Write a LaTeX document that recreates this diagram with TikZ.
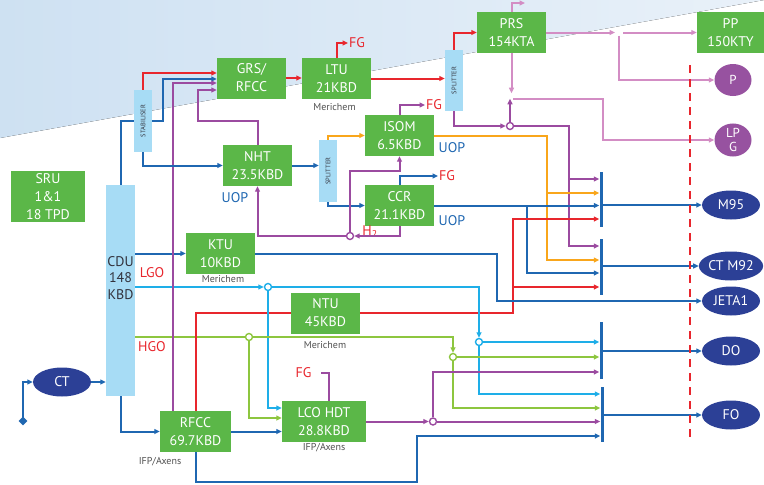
\documentclass[tikz,border=0pt]{standalone}
\usepackage{fontspec}
\setmainfont{PT Sans}
\usetikzlibrary{arrows.meta,shapes.geometric}
\definecolor{unitgreen}{RGB}{91,183,72}
\definecolor{colblue}{RGB}{167,220,245}
\definecolor{prodblue}{RGB}{44,64,150}
\definecolor{prodpurple}{RGB}{151,82,160}
\definecolor{lineblue}{RGB}{31,103,177}
\definecolor{linecyan}{RGB}{30,174,232}
\definecolor{linered}{RGB}{232,38,45}
\definecolor{linegreen}{RGB}{141,198,63}
\definecolor{linepurple}{RGB}{155,75,160}
\definecolor{linepink}{RGB}{211,141,196}
\definecolor{lineorange}{RGB}{249,166,27}
\definecolor{licgray}{RGB}{80,80,80}
\definecolor{coltext}{RGB}{50,50,60}
\definecolor{bgdark}{RGB}{206,225,242}
\definecolor{bglight}{RGB}{233,241,249}
\tikzset{
  unit/.style={rectangle, fill=unitgreen, text=white, align=center, inner sep=0pt, minimum width=69pt, minimum height=41pt, font=\fontsize{14}{18}\selectfont},
  column/.style={rectangle, fill=colblue, inner sep=0pt, minimum width=18pt},
  coltxt/.style={text=coltext, inner sep=0pt, font=\fontsize{6.5}{7}\selectfont},
  prod/.style={ellipse, fill=prodblue, text=white, inner sep=0pt, minimum width=58pt, minimum height=29pt, font=\fontsize{14}{16}\selectfont},
  lpgprod/.style={ellipse, fill=prodpurple, text=white, inner sep=0pt, minimum width=37pt, minimum height=32pt, align=center, font=\fontsize{13}{14}\selectfont},
  jnc/.style={circle, fill=white, line width=1.4pt, minimum size=7pt, inner sep=0pt},
  bar/.style={rectangle, fill=lineblue, minimum width=3pt, inner sep=0pt},
  fgtext/.style={text=linered, inner sep=1pt, font=\fontsize{14}{16}\selectfont},
  uoptext/.style={text=lineblue, inner sep=0pt, font=\fontsize{14}{16}\selectfont},
  lictxt/.style={text=licgray, inner sep=0pt, font=\fontsize{10}{12}\selectfont},
  fblue/.style={line width=2pt, draw=lineblue},
  fcyan/.style={line width=2pt, draw=linecyan},
  fred/.style={line width=2pt, draw=linered},
  fgreen/.style={line width=2pt, draw=linegreen},
  fpur/.style={line width=2pt, draw=linepurple},
  fpink/.style={line width=2pt, draw=linepink},
  forange/.style={line width=2pt, draw=lineorange},
  arr/.style={-{Triangle[length=5.5pt,width=5pt]}}
}
\begin{document}
\begin{tikzpicture}[x=1pt, y=-1pt]
  \useasboundingbox (0,0) rectangle (764,485);
  % background band
  \fill[left color=bgdark, right color=bglight] (0,0) -- (764,0) -- (0,138) -- cycle;

  % process units
  \node[unit, minimum width=74pt, minimum height=51pt] (sru) at (48,196.5) {SRU\\1\&1\\18 TPD};
  \node[unit] (grs) at (251.5,78) {GRS/\\RFCC};
  \node[unit] (ltu) at (336.5,78.5) {LTU\\21KBD};
  \node[unit] (prs) at (511.5,32.5) {PRS\\154KTA};
  \node[unit, minimum width=67pt] (pp) at (730.5,32.5) {PP\\150KTY};
  \node[unit] (nht) at (257.5,165.5) {NHT\\23.5KBD};
  \node[unit] (isom) at (399.5,135.5) {ISOM\\6.5KBD};
  \node[unit] (ccr) at (399.5,205.5) {CCR\\21.1KBD};
  \node[unit] (ktu) at (220.5,253.5) {KTU\\10KBD};
  \node[unit] (ntu) at (325.5,313) {NTU\\45KBD};
  \node[unit, minimum width=71pt] (rfcc) at (195.5,431.5) {RFCC\\69.7KBD};
  \node[unit, minimum width=84pt] (lco) at (324,421.5) {LCO HDT\\28.8KBD};

  % columns
  \node[column, minimum height=62pt] (stab) at (143,121) {};
  \node[coltxt, rotate=90] (stabLbl) at (stab) {STABILISER};
  \node[column, minimum width=29pt, minimum height=211pt] (cdu) at (120.5,290.5) {};
  \node[text=coltext, align=center, font=\fontsize{14}{16.5}\selectfont] (cduLbl) at (120.5,278) {CDU\\148\\KBD};
  \node[column, minimum height=62pt] (split1) at (328,171) {};
  \node[coltxt, rotate=90] (split1Lbl) at (split1) {SPLITTER};
  \node[column, minimum height=61pt] (split2) at (454,80.5) {};
  \node[coltxt, rotate=90] (split2Lbl) at (split2) {SPLITTER};

  % products
  \node[prod] (ct) at (62,382) {CT};
  \node[prod] (m95) at (731,205) {M95};
  \node[prod] (ctm92) at (731,266) {CT M92};
  \node[prod] (jeta1) at (731,301) {JETA1};
  \node[prod] (do) at (731,351) {DO};
  \node[prod] (fo) at (731,415) {FO};
  \node[lpgprod] (p) at (733,80) {P};
  \node[lpgprod] (lpg) at (733,140) {LP\\G};
  \node[diamond, fill=lineblue, minimum size=9pt, inner sep=0pt] (feed) at (23,421) {};

  % blending bars
  \node[bar, minimum height=55pt] (barA) at (601,199.5) {};
  \node[bar, minimum height=56pt] (barB) at (601,267) {};
  \node[bar, minimum height=57pt] (barC) at (601,350.5) {};
  \node[bar, minimum height=55pt] (barD) at (602,414.5) {};

  % junctions
  \node[jnc, draw=linepurple] (jP) at (510,126) {};
  \node[jnc, draw=linepurple] (jH) at (350,236) {};
  \node[jnc, draw=linecyan] (jL) at (268,287) {};
  \node[jnc, draw=linecyan] (jC) at (479,342) {};
  \node[jnc, draw=linegreen] (jG) at (249,337) {};
  \node[jnc, draw=linegreen] (jG2) at (453,357) {};
  \node[jnc, draw=linepurple] (jLco) at (433,421.5) {};
  \coordinate (prsTop) at (525,3);
  \coordinate (lpgTap) at (513,99);
  \coordinate (pSplit) at (619,32.5);

  % text labels
  \node[fgtext, anchor=west] (fgLtu) at (348,43) {FG};
  \node[fgtext, anchor=west] (fgIsom) at (425,105) {FG};
  \node[fgtext, anchor=west] (fgCcr) at (438,176) {FG};
  \node[fgtext] (fgLco) at (303.5,373) {FG};
  \node[fgtext] (h2) at (370,232) {H\textsubscript{2}};
  \node[fgtext] (lgo) at (152,273) {LGO};
  \node[fgtext] (hgo) at (152,347) {HGO};
  \node[uoptext] (uopNht) at (235,198) {UOP};
  \node[uoptext] (uopIsom) at (452,148) {UOP};
  \node[uoptext] (uopCcr) at (452,221) {UOP};
  \node[lictxt] (licLtu) at (334.5,107) {Merichem};
  \node[lictxt] (licKtu) at (223,279) {Merichem};
  \node[lictxt] (licNtu) at (325,345) {Merichem};
  \node[lictxt] (licRfcc) at (160,462) {IFP/Axens};
  \node[lictxt] (licLco) at (324,448) {IFP/Axens};

  % crude and CDU
  \draw[fblue, arr] (feed.center) |- (ct.west);
  \draw[fblue, arr] (ct.east) -- (ct.east -| cdu.west);
  \draw[fblue] (cdu.north) |- (stab.west);
  \draw[fblue, arr] (cdu.east |- ktu.west) -- (ktu.west);
  \draw[fcyan, arr] (cdu.east |- jL) -- (jL.west);
  \draw[fgreen] (cdu.east |- jG) -- (jG.west);
  \draw[fblue, arr] (cdu.south) |- (rfcc.west);

  % light ends
  \draw[fred, arr] (stab.north) |- ([yshift=5pt]grs.west);
  \draw[fblue, arr] (stab.east) -- ++(11,0) |- ([yshift=-1pt]grs.west);
  \draw[fpur, arr] ([xshift=-22.5pt]rfcc.north) |- ([yshift=-5pt]grs.west);
  \draw[fpur, arr] (nht.north) |- (198,121) |- ([yshift=-12pt]grs.west);
  \draw[fblue, arr] (stab.south) |- (nht.west);
  \draw[fred, arr] (grs.east) -- (grs.east -| ltu.west);
  \draw[fred, arr] (ltu.north) |- (fgLtu.west);
  \draw[fred, arr] (ltu.east) -- (ltu.east -| split2.west);
  \draw[fred, arr] (split2.north) |- (prs.west);
  \draw[fpur, arr] (split2.south) |- (jP.west);

  % propylene
  \draw[fpink, arr] (prs.north) |- (prsTop);
  \draw[fpink, arr] (prs.south) -- ++(0,40);
  \draw[fpur, arr] (jP.north) -- ++(0,-23);
  \draw[fpink, arr] (lpgTap) -- (603,99) |- (lpg.west);
  \draw[fpink, arr] (prs.east) -- ([xshift=-4pt]pSplit);
  \draw[fpink, arr] ([xshift=4pt]pSplit) -- (pSplit -| pp.west);
  \draw[fpink, arr] ([yshift=-3pt]pSplit) |- (p.west);

  % naphtha
  \draw[fblue, arr] (nht.east) -- (nht.east -| split1.west);
  \draw[forange, arr] (split1.north) |- (isom.west);
  \draw[fblue, arr] (split1.south) |- (ccr.west);
  \draw[fpur, arr] (isom.north) |- (fgIsom.west);
  \draw[fblue, arr] (ccr.north) |- (fgCcr.west);
  \draw[fpur, arr] (ccr.south) |- (jH.east);
  \draw[fpur, arr] (jH.west) -| (nht.south);
  \draw[fpur, arr] (jH.north) |- ([yshift=-15pt]isom.south) -- (isom.south);

  % gasoline pool
  \draw[fpur, arr] (jP.east) -| (569,179) -- (barA.west |- 0,179);
  \draw[fpur, arr] (569,179) |- (barB.west |- 0,246);
  \draw[forange, arr] (isom.east) -| (547,193) -- (barA.west |- 0,193);
  \draw[forange, arr] (547,193) |- (barB.west |- 0,260);
  \draw[fblue, arr] (ccr.east) -- (ccr.east -| barA.west);
  \draw[fblue, arr] (527,205.5) |- (barB.west |- 0,273);
  \draw[fred] (rfcc.north) |- (ntu.west);
  \draw[fred, arr] (ntu.east) -| (513,219) -- (barA.west |- 0,219);
  \draw[fred, arr] (513,287) -- (barB.west |- 0,287);

  % kerosene and gasoil
  \draw[fblue, arr] (ktu.east) -| (497,301) -- (jeta1.west);
  \draw[fcyan, arr] (jL.east) -| (jC.north);
  \draw[fcyan, arr] (jC.east) -- (jC.east -| barC.west);
  \draw[fcyan, arr] (jC.south) |- (barD.west |- 0,394);
  \draw[fcyan, arr] (jL.south) |- ([yshift=13.5pt]lco.west);
  \draw[fgreen, arr] (jG.east) -| (jG2.north);
  \draw[fgreen, arr] (jG2.east) -- (jG2.east -| barC.west);
  \draw[fgreen, arr] (jG2.south) |- (barD.west |- 0,408);
  \draw[fgreen, arr] (jG.south) |- ([yshift=3.5pt]lco.west);

  % RFCC and LCO HDT
  \draw[fblue, arr] (rfcc.east) -- (rfcc.east -| lco.west);
  \draw[fblue, arr] (rfcc.south) |- (417,482) |- (barD.west |- 0,436);
  \draw[fpur] ([xshift=5pt]lco.north) |- ([xshift=8pt]fgLco.east);
  \draw[fpur, arr] (lco.east) -- (jLco.west);
  \draw[fpur, arr] (jLco.east) -- (jLco.east -| barD.west);
  \draw[fpur, arr] (jLco.north) |- (barC.west |- 0,372);

  % bars to products
  \draw[fblue, arr] (barA.east |- m95) -- (m95.west);
  \draw[fblue, arr] (barB.east |- ctm92) -- (ctm92.west);
  \draw[fblue, arr] (barC.east |- do) -- (do.west);
  \draw[fblue, arr] (barD.east |- fo) -- (fo.west);

  % battery limit
  \draw[linered, line width=2.2pt, dash pattern=on 8pt off 6pt] (690,65) -- (690,437) -- (694,437);
\end{tikzpicture}
\end{document}
